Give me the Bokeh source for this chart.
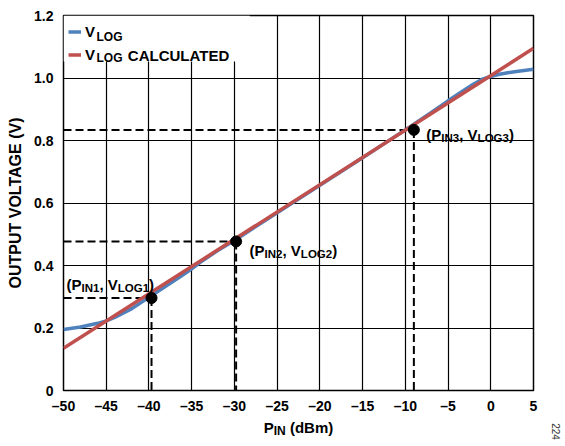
from bokeh.plotting import figure
from bokeh.layouts import column
from bokeh.models import (Label, Legend, LegendItem, FixedTicker, Range1d, BoxAnnotation,
                          LinearAxis)
from bokeh.embed import file_html
from bokeh.resources import INLINE

# ---------------- data ----------------
x_ticks = [-50, -45, -40, -35, -30, -25, -20, -15, -10, -5, 0, 5]
x_tick_labels = ["\u201350", "\u201345", "\u201340", "\u201335", "\u201330", "\u201325",
                 "\u201320", "\u201315", "\u201310", "\u20135", "0", "5"]
y_ticks = [0, 0.2, 0.4, 0.6, 0.8, 1.0, 1.2]
y_tick_labels = ["0", "0.2", "0.4", "0.6", "0.8", "1.0", "1.2"]

# measured V_LOG (blue)
pin_meas = [-50, -48, -46, -45, -44, -42, -40, -38, -36, -35, -34, -32, -30, -25, -20,
            -15, -10, -7, -5, -3, -2, -1, 0, 1, 2, 3, 5]
vlog_meas = [0.195, 0.203, 0.215, 0.223, 0.234, 0.262, 0.298, 0.334, 0.370, 0.389, 0.410,
             0.447, 0.480, 0.569, 0.657, 0.745, 0.834, 0.889, 0.927, 0.963, 0.981, 0.996,
             1.005, 1.012, 1.017, 1.021, 1.028]

# calculated V_LOG (red, straight line)
pin_calc = [-50, 5]
vlog_calc = [0.135, 1.095]

# calibration points
pin_pts = [-39.7, -29.8, -9.0]
vlog_pts = [0.296, 0.477, 0.834]
pt_names = ["1", "2", "3"]

BLUE = "#4f81bd"
RED = "#c0504d"
FONT = "Liberation Sans"

# ---------------- main figure ----------------
p = figure(width=565, height=416, output_backend="svg", toolbar_location=None,
           x_range=Range1d(x_ticks[0], x_ticks[-1]), y_range=Range1d(y_ticks[0], y_ticks[-1]),
           min_border_left=63, min_border_right=32, min_border_top=15, min_border_bottom=26)
p.background_fill_color = "white"
p.border_fill_color = "white"
p.outline_line_color = "black"
p.outline_line_width = 1.5

for ax in (p.xaxis[0], p.yaxis[0]):
    ax.axis_line_color = None
    ax.major_tick_line_color = None
    ax.minor_tick_line_color = None
    ax.major_tick_out = 0
    ax.major_tick_in = 0
    ax.minor_tick_out = 0
    ax.minor_tick_in = 0
    ax.major_label_text_font = FONT
    ax.major_label_text_font_style = "bold"
    ax.major_label_text_font_size = "14px"
    ax.major_label_text_color = "black"

p.xaxis.ticker = FixedTicker(ticks=x_ticks)
p.xaxis.major_label_overrides = {t: l for t, l in zip(x_ticks, x_tick_labels)}
p.xaxis.major_label_standoff = 7
p.yaxis.ticker = FixedTicker(ticks=y_ticks)
p.yaxis.major_label_overrides = {t: l for t, l in zip(y_ticks, y_tick_labels)}
p.yaxis.major_label_standoff = 10
p.yaxis.axis_label = "OUTPUT VOLTAGE (V)"
p.yaxis.axis_label_text_font = FONT
p.yaxis.axis_label_text_font_style = "bold"
p.yaxis.axis_label_text_font_size = "16px"
p.yaxis.axis_label_text_color = "black"
p.yaxis.axis_label_standoff = 7

for g in (p.xgrid[0], p.ygrid[0]):
    g.grid_line_color = "black"
    g.grid_line_width = 1.2
    g.grid_line_alpha = 1.0

# white patch behind the legend (hides the grid there, as in the original)
p.add_layout(BoxAnnotation(left=x_ticks[0], right=-28.2, top=y_ticks[-1], bottom=1.053,
                           fill_color="white", fill_alpha=1.0, line_color=None,
                           level="underlay"))

# dashed guides
p.segment(x0=[x_ticks[0]] * len(pin_pts), y0=vlog_pts, x1=pin_pts, y1=vlog_pts,
          line_color="black", line_width=2, line_dash="8 4")
p.segment(x0=pin_pts, y0=vlog_pts, x1=pin_pts, y1=[y_ticks[0]] * len(pin_pts),
          line_color="black", line_width=2, line_dash="8 4")

r_meas = p.line(pin_meas, vlog_meas, line_color=BLUE, line_width=3.5)
r_calc = p.line(pin_calc, vlog_calc, line_color=RED, line_width=3.5)
p.scatter(pin_pts, vlog_pts, size=11, color="black")

# ---------------- legend ----------------
legend = Legend(items=[LegendItem(label="V", renderers=[r_meas]),
                       LegendItem(label="V", renderers=[r_calc])],
                location="top_left", orientation="vertical",
                glyph_width=13, glyph_height=23, label_height=23, label_width=160,
                label_standoff=4, spacing=-2, padding=4, margin=5,
                label_text_font=FONT, label_text_font_style="bold", label_text_font_size="15px",
                label_text_color="black", border_line_color=None,
                background_fill_alpha=0.0)
p.add_layout(legend, "center")

# ---------------- rich text helper ----------------
W = {"(": 333, ")": 333, "P": 667, "I": 278, "N": 722, "0": 556, "1": 556, "2": 556,
     "3": 556, ",": 278, " ": 278, "V": 667, "L": 611, "O": 778, "G": 778, "C": 722,
     "A": 722, "U": 722, "T": 611, "E": 667, "D": 722, "d": 611, "B": 722, "m": 889}


def tw(s, size):
    return sum(W.get(c, 600) for c in s) * size / 1000.0


def rich(fig, x, y, dx, dy, pieces, sub_drop=3.5):
    off = dx
    for txt, size, sub in pieces:
        shown = txt.strip()
        lead = tw(txt[: len(txt) - len(txt.lstrip())], size)
        fig.add_layout(Label(x=x, y=y, x_offset=off + lead, y_offset=dy - (sub_drop if sub else 0),
                             text=shown, text_font=FONT, text_font_style="bold",
                             text_font_size=f"{size}px", text_baseline="alphabetic",
                             text_align="left", text_color="black"))
        off += tw(txt, size)
    return off


def total_w(pieces):
    return sum(tw(t, s) for t, s, _ in pieces)


# point annotations
ann_offsets = [(-85, 14), (13.5, -9.5), (12.5, -5)]
for xp, yp, nm, (dx, dy) in zip(pin_pts, vlog_pts, pt_names, ann_offsets):
    rich(p, xp, yp, dx, dy, [("(P", 15, False), ("IN" + nm, 11.5, True), (", V", 15, False),
                             ("LOG" + nm, 11.5, True), (")", 15, False)])

# legend subscripts (after the legend's "V")
leg_x0 = 5 + 4 + 13 + 4 + tw("V", 15) - 3
rich(p, x_ticks[0], y_ticks[-1], leg_x0, -17, [("LOG", 12, True)], sub_drop=4)
rich(p, x_ticks[0], y_ticks[-1], leg_x0, -38, [("LOG", 12, True)], sub_drop=4)
p.add_layout(Label(x=x_ticks[0], y=y_ticks[-1], x_offset=leg_x0 + tw("LOG ", 12) + 2,
                   y_offset=-40, text="CALCULATED", text_font=FONT, text_font_style="bold",
                   text_font_size="15px", text_baseline="alphabetic", text_align="left",
                   text_color="black"))

# ---------------- strip below: x-axis title + figure number ----------------
t = figure(width=565, height=30, output_backend="svg", toolbar_location=None,
           x_range=p.x_range, y_range=Range1d(0, 30),
           min_border_left=63, min_border_right=32, min_border_top=0, min_border_bottom=0)
t.axis.visible = False
t.grid.visible = False
t.outline_line_color = None
t.background_fill_color = "white"
t.border_fill_color = "white"

fig_no = LinearAxis(ticker=FixedTicker(ticks=[]), axis_line_color=None,
                    major_tick_line_color=None, minor_tick_line_color=None,
                    major_tick_out=0, minor_tick_out=0, major_label_standoff=0,
                    axis_label="224", axis_label_standoff=18,
                    axis_label_text_font=FONT, axis_label_text_font_size="10px",
                    axis_label_text_font_style="normal", axis_label_text_color="#333333")
t.add_layout(fig_no, "right")

xt = [("P", 15, False), ("IN", 12, True), (" (dBm)", 15, False)]
xmid = (x_ticks[0] + x_ticks[-1]) / 2
rich(t, xmid, 19, -total_w(xt) / 2, 0, xt, sub_drop=3.5)

layout = column(p, t, spacing=0)
open("out.html", "w").write(file_html(layout, INLINE))
